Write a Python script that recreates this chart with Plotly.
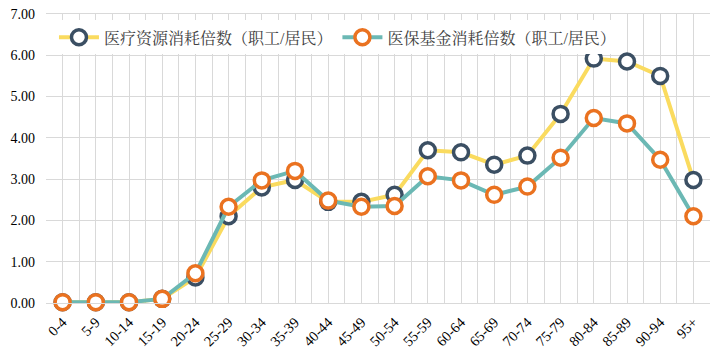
import plotly.graph_objects as go

categories = ["0-4", "5-9", "10-14", "15-19", "20-24", "25-29", "30-34", "35-39", "40-44", "45-49",
              "50-54", "55-59", "60-64", "65-69", "70-74", "75-79", "80-84", "85-89", "90-94", "95+"]
resource_ratio = [0.02, 0.02, 0.02, 0.10, 0.62, 2.10, 2.80, 2.98, 2.45, 2.45,
                  2.62, 3.70, 3.65, 3.35, 3.57, 4.58, 5.92, 5.85, 5.50, 2.98]
fund_ratio = [0.02, 0.02, 0.02, 0.10, 0.72, 2.33, 2.97, 3.20, 2.48, 2.33,
              2.35, 3.07, 2.97, 2.62, 2.82, 3.52, 4.48, 4.35, 3.47, 2.10]
series_names = ["医疗资源消耗倍数（职工/居民）", "医保基金消耗倍数（职工/居民）"]
y_ticks = [0, 1, 2, 3, 4, 5, 6, 7]

FONT = "Liberation Serif, Times New Roman, Noto Serif CJK SC, Noto Sans CJK SC, serif"
GRID = "#d9d9d9"

fig = go.Figure()
fig.add_trace(go.Scatter(
    x=categories, y=resource_ratio, name=series_names[0], mode="lines+markers",
    line=dict(color="#FADB5F", width=4),
    marker=dict(size=15, color="white", line=dict(color="#3B4F63", width=3.5)),
    cliponaxis=False,
))
fig.add_trace(go.Scatter(
    x=categories, y=fund_ratio, name=series_names[1], mode="lines+markers",
    line=dict(color="#6BB8B4", width=4),
    marker=dict(size=15, color="white", line=dict(color="#EA7220", width=3.5)),
    cliponaxis=False,
))

fig.update_layout(
    width=716, height=359,
    margin=dict(l=46, r=6, t=14, b=56),
    paper_bgcolor="white", plot_bgcolor="white",
    font=dict(family=FONT, size=14, color="#404040"),
    showlegend=True,
    legend=dict(orientation="h", x=0.012, y=0.978, xanchor="left", yanchor="top",
                bgcolor="white", font=dict(size=16, color="#404040"),
                itemwidth=40, tracegroupgap=0),
    xaxis=dict(type="category", range=[-0.5, len(categories) - 0.5],
               showgrid=False, tickangle=-45, ticks="", zeroline=False, automargin=False,
               ticklabelstandoff=7,
               tickfont=dict(size=14.5, color="#000000")),
    xaxis2=dict(overlaying="x", range=[-0.5, len(categories) - 0.5], dtick=0.5, tick0=-0.5,
                showgrid=True, gridcolor=GRID, gridwidth=1, showticklabels=False,
                zeroline=False, automargin=False, showline=True, mirror=True,
                linecolor=GRID, linewidth=1),
    yaxis=dict(range=[0, 7], tickvals=y_ticks, tickformat=".2f", showgrid=True,
               gridcolor=GRID, gridwidth=1, zeroline=False, ticks="", automargin=False,
               ticklabelstandoff=10,
               tickfont=dict(size=14, color="#000000")),
)
fig.add_trace(go.Scatter(x=[-0.5, len(categories) - 0.5], y=[None, None], xaxis="x2",
                         showlegend=False, hoverinfo="skip", mode="lines"))
fig.write_html("out.html", config={"displayModeBar": False},
               post_script="document.body.style.margin='0';document.body.style.padding='0';")
